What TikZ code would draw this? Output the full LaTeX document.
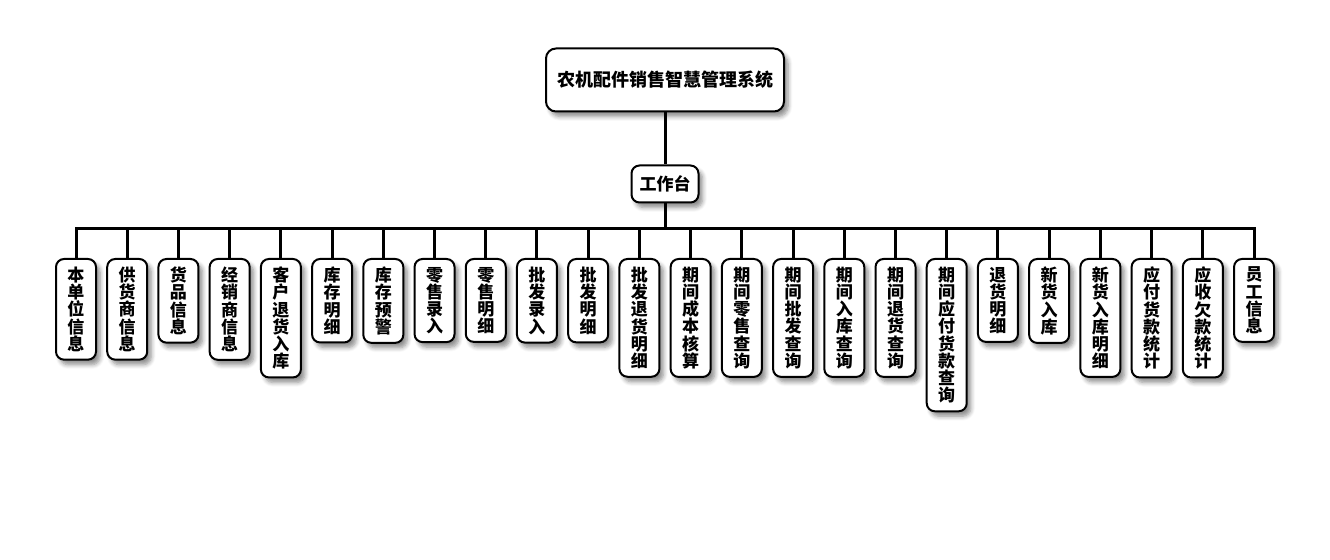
\documentclass[tikz,border=0pt]{standalone}
\usepackage{fontspec}
\setmainfont{Noto Sans CJK SC}
\usepackage{tikz}
\usetikzlibrary{
  calc,          % Coordinate math
  shadows.blur   % Soft shadows under the boxes
}

\begin{document}
\begin{tikzpicture}[x=0.5pt, y=-0.5pt,
    box/.style={draw=black, line width=1pt, fill=white, rounded corners=4pt,
      blur shadow={shadow xshift=2pt, shadow yshift=-2.5pt, shadow blur steps=6, shadow opacity=45}},
    leaf/.style={box, anchor=north, minimum width=20pt, inner xsep=1pt, inner ysep=4pt,
      align=center, font=\bfseries\fontsize{8.5}{8.6}\selectfont},
    link/.style={line width=1.5pt}]
                % Page frame
                \useasboundingbox (0,0) rectangle (1330,560);

                % System title at the top
                \node[box, rounded corners=5pt, minimum width=119pt, minimum height=31.5pt,
                  font=\bfseries\fontsize{9}{10}\selectfont] (sys) at (665,80) {农机配件销售智慧管理系统};

                % Workbench node
                \node[box, minimum width=33.5pt, minimum height=18.5pt,
                  font=\bfseries\fontsize{8.5}{9}\selectfont] (desk) at (665,184) {工作台};
                \draw[link] (sys) -- (desk);

                % Height of the branch bar
                \coordinate (bar) at (665,229);

                % Function leaves under the bar
                \foreach \txt [count=\i from 0] in {
                    {本\\单\\位\\信\\息}, {供\\货\\商\\信\\息}, {货\\品\\信\\息}, {经\\销\\商\\信\\息},
                    {客\\户\\退\\货\\入\\库}, {库\\存\\明\\细}, {库\\存\\预\\警}, {零\\售\\录\\入},
                    {零\\售\\明\\细}, {批\\发\\录\\入}, {批\\发\\明\\细}, {批\\发\\退\\货\\明\\细},
                    {期\\间\\成\\本\\核\\算}, {期\\间\\零\\售\\查\\询}, {期\\间\\批\\发\\查\\询},
                    {期\\间\\入\\库\\查\\询}, {期\\间\\退\\货\\查\\询}, {期\\间\\应\\付\\货\\款\\查\\询},
                    {退\\货\\明\\细}, {新\\货\\入\\库}, {新\\货\\入\\库\\明\\细}, {应\\付\\货\\款\\统\\计},
                    {应\\收\\欠\\款\\统\\计}, {员\\工\\信\\息}} {
                  \node[leaf] (leaf\i) at ({76+\i*51.22},258) {\txt};
                  \draw[link] (desk.south) -- (desk.south |- bar) -| (leaf\i.north);
                }
\end{tikzpicture}
\end{document}
